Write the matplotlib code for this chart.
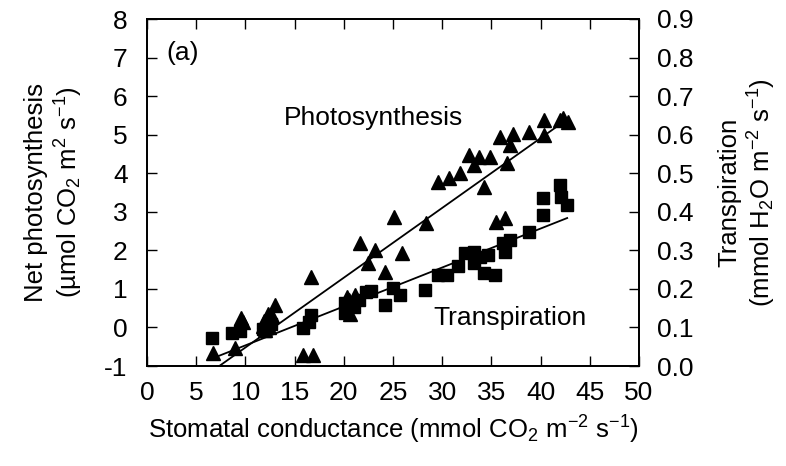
import matplotlib
matplotlib.use("Agg")
import matplotlib.pyplot as plt
import numpy as np

plt.rcParams["font.family"] = ["Liberation Sans", "DejaVu Sans"]
plt.rcParams["mathtext.default"] = "regular"
plt.rcParams["axes.unicode_minus"] = False

# Net photosynthesis (umol CO2 m-2 s-1) vs stomatal conductance
photo_gs = [6.7, 8.9, 9.6, 9.4, 9.8, 11.8, 12.2, 12.5, 12.0, 12.4, 12.7, 13.0,
            11.9, 12.3, 15.9, 16.9, 16.7, 20.3, 20.5, 20.6, 21.1, 21.6, 22.5,
            23.2, 24.2, 25.1, 25.9, 28.4, 29.6, 30.7, 31.8, 32.7, 33.2, 33.7,
            34.9, 34.2, 35.5, 36.4, 35.9, 36.6, 36.9, 37.2, 38.8, 40.3, 40.3,
            42.0, 42.3, 42.8]
photo_an = [-0.65, -0.54, 0.25, 0.02, 0.15, 0.05, 0.11, 0.22, -0.07, 0.0, 0.3,
            0.58, 0.18, 0.35, -0.71, -0.71, 1.32, 0.80, 0.72, 0.35, 0.84, 2.18,
            1.68, 2.01, 1.45, 2.87, 1.92, 2.70, 3.78, 3.87, 4.00, 4.47, 4.21,
            4.43, 4.43, 3.65, 2.74, 2.83, 4.95, 4.26, 4.73, 5.03, 5.08, 5.38,
            4.99, 5.38, 5.42, 5.34]

# Transpiration (mmol H2O m-2 s-1) vs stomatal conductance
trans_gs = [6.6, 8.6, 9.5, 11.8, 12.2, 12.6, 12.0, 15.9, 16.7, 16.5, 20.1,
            20.1, 21.0, 21.5, 22.3, 22.8, 24.2, 25.0, 25.7, 28.3, 29.6, 30.5,
            31.6, 32.3, 33.2, 33.8, 33.2, 34.7, 34.2, 35.4, 36.2, 36.9, 36.4,
            38.8, 40.2, 40.2, 42.0, 42.1, 42.7]
trans_e = [0.072, 0.085, 0.090, 0.095, 0.102, 0.108, 0.092, 0.098, 0.132,
           0.115, 0.163, 0.137, 0.154, 0.171, 0.193, 0.195, 0.158, 0.202,
           0.184, 0.197, 0.236, 0.236, 0.260, 0.292, 0.296, 0.283, 0.266,
           0.288, 0.240, 0.236, 0.318, 0.327, 0.296, 0.348, 0.435, 0.392,
           0.470, 0.439, 0.418]

# Linear regressions (slope, intercept, x range)
photo_fit = (0.181, -2.33, 7.35, 42.7)
trans_fit = (0.0101, -0.0475, 7.1, 42.7)

x_ticks = [0, 5, 10, 15, 20, 25, 30, 35, 40, 45, 50]
left_ticks = [-1, 0, 1, 2, 3, 4, 5, 6, 7, 8]
right_ticks = [0.0, 0.1, 0.2, 0.3, 0.4, 0.5, 0.6, 0.7, 0.8, 0.9]

FS = 19
LFS = 18.5

fig = plt.figure(figsize=(7.86, 4.66), dpi=100)
ax = fig.add_axes([147 / 786, 1 - 366 / 466, 492 / 786, 347 / 466])
ax2 = ax.twinx()

ax.set_xlim(0, 50)
ax.set_ylim(-1, 8)
ax2.set_ylim(0, 0.9)

ax.plot(photo_gs, photo_an, linestyle="none", marker="^", markersize=10.5,
        color="black", zorder=3)
ax2.plot(trans_gs, trans_e, linestyle="none", marker="s", markersize=8,
         color="black", zorder=3)

xs = np.array(photo_fit[2:])
ax.plot(xs, photo_fit[0] * xs + photo_fit[1], color="black", lw=1.3, zorder=2)
xs = np.array(trans_fit[2:])
ax2.plot(xs, trans_fit[0] * xs + trans_fit[1], color="black", lw=1.3, zorder=2)

ax.set_xticks(x_ticks)
ax.set_yticks(left_ticks)
ax2.set_yticks(right_ticks)
ax2.set_yticklabels([f"{v:.1f}" for v in right_ticks])

ax.tick_params(axis="x", direction="in", length=7, width=1, top=True,
               labelsize=FS, pad=11)
ax.tick_params(axis="y", direction="in", length=7, width=1, labelsize=FS,
               pad=14)
ax2.tick_params(axis="y", direction="in", length=7, width=1, labelsize=FS,
                pad=13)

for a in (ax, ax2):
    for s in a.spines.values():
        s.set_linewidth(1.3)

ax.set_xlabel("Stomatal conductance (mmol CO$_2$ m$^{-2}$ s$^{-1}$)",
              fontsize=LFS, labelpad=6)
ax.set_ylabel("Net photosynthesis\n(\u00b5mol CO$_2$ m$^2$ s$^{-1}$)",
              fontsize=LFS, labelpad=14, linespacing=1.2)
ax2.set_ylabel("Transpiration\n(mmol H$_2$O m$^{-2}$ s$^{-1}$)",
               fontsize=LFS, labelpad=17, linespacing=1.2)

ax.text(3.66, 7.12, "(a)", fontsize=FS, ha="center", va="center")
ax.text(22.97, 5.43, "Photosynthesis", fontsize=FS, ha="center", va="center")
ax.text(36.9, 0.25, "Transpiration", fontsize=FS, ha="center", va="center")

fig.savefig("out.png", dpi=100)
